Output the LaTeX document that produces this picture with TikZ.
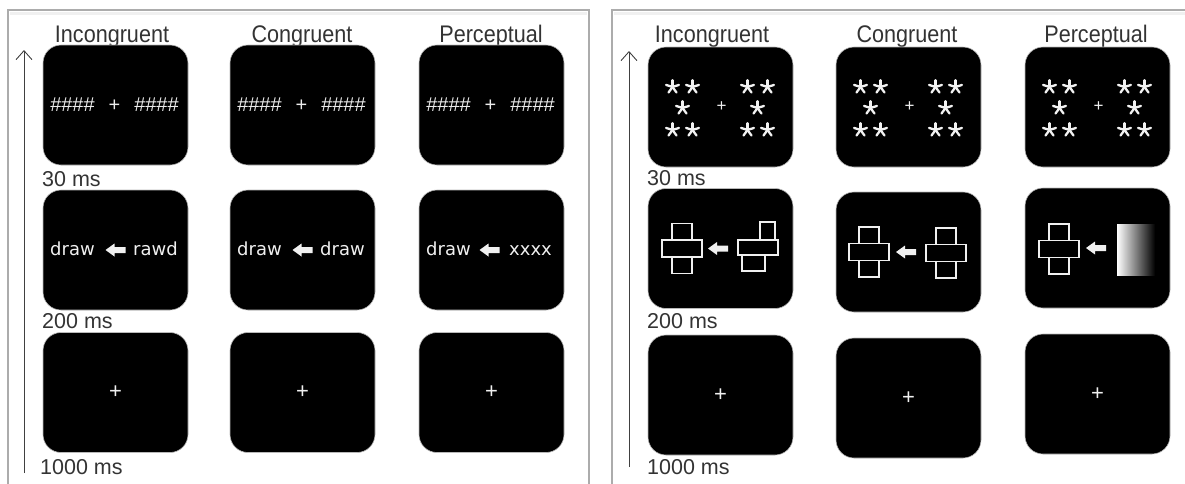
\documentclass[tikz,border=0pt]{standalone}
\usepackage{fontspec}
\setmainfont{Liberation Sans}
\newfontfamily\titlefont[FakeStretch=0.9]{Liberation Sans}
\newfontfamily\stimfont{DejaVu Sans}
\usetikzlibrary{arrows.meta}
\begin{document}
\begin{tikzpicture}[x=1pt,y=-1pt,
  screen/.style={draw=gray!55, line width=0.6pt, fill=black, rounded corners=18pt,
    minimum width=145pt, minimum height=120pt, inner sep=0pt},
  ttl/.style={font=\titlefont\fontsize{24}{24}\selectfont, text=black!80, inner sep=0pt, anchor=base},
  tlabel/.style={font=\fontsize{21.5}{22}\selectfont, text=black!80, anchor=base west, inner sep=0pt},
  word/.style={font=\stimfont\fontsize{18}{18}\selectfont, text=gray!12, inner sep=0pt, anchor=base},
  hashes/.style={font=\fontsize{20}{20}\selectfont, text=gray!15, inner sep=0pt, anchor=base},
  fix/.style={font=\fontsize{22}{22}\selectfont, text=gray!12, inner sep=0pt},
  panel/.style={draw=gray!65, line width=1.2pt},
  timeline/.style={draw=black!75, line width=0.9pt, -{Straight Barb[length=9pt,width=16pt]}},
  outline/.style={draw=gray!12, line width=1.2pt, fill=black},
  thickarrow/.pic={\fill[gray!12] (-10,0) -- (-1,-6.5) -- (-1,-3) -- (10,-3) -- (10,3) -- (-1,3) -- (-1,6.5) -- cycle;},
  starmark/.pic={\foreach \a in {-90,-18,54,126,198} \draw[gray!10, line width=2.3pt, line cap=round] (0,0) -- (\a:6.8);},
  starset/.pic={
    \pic at (-10,-21) {starmark}; \pic at (10,-21) {starmark};
    \pic at (0,0) {starmark};
    \pic at (-10,22) {starmark}; \pic at (10,22) {starmark};},
  crossfig/.pic={\draw[outline] (-10,-25) rectangle (10,25); \draw[outline] (-20,-8.5) rectangle (20,8.5);},
  brokencross/.pic={\draw[outline] (2,-25.5) rectangle (17,-7.5); \draw[outline] (-16,7.5) rectangle (7,23.5);
    \draw[outline] (-20,-7.5) rectangle (20,7.5);},
]
\useasboundingbox (0,0) rectangle (1185,483);
\clip (0,0) rectangle (1185,483);

% panels
\draw[gray!12, line width=3pt] (10,13.5) -- (587,13.5);
\draw[gray!12, line width=3pt] (614,13.5) -- (1190,13.5);
\draw[panel] (8,10) rectangle (589,500);
\draw[panel] (612,10) rectangle (1200,500);

% ===== LEFT PANEL =====
\coordinate (lbot) at (24,473);
\coordinate (ltop) at (24,50);
\draw[timeline] (lbot) -- (ltop);

\node[ttl] (lt1) at (112,42) {Incongruent};
\node[ttl] (lt2) at (302,42) {Congruent};
\node[ttl] (lt3) at (491,42) {Perceptual};

% row 1
\node[screen] (la1) at (115.5,105) {};
\node[screen] (lb1) at (302.5,105) {};
\node[screen] (lc1) at (491.5,105) {};
\foreach \n/\c in {a/115.5,b/302.5,c/491.5}{
  \node[hashes] (lh\n l) at (\c-43,111) {\#\#\#\#};
  \node[hashes] (lh\n p) at (\c-1,111) {+};
  \node[hashes] (lh\n r) at (\c+41,111) {\#\#\#\#};
}
% row 2
\node[screen] (la2) at (115.5,250) {};
\node[screen] (lb2) at (302.5,250) {};
\node[screen] (lc2) at (491.5,250) {};
\node[word] (lwa1) at (115.5-43,255) {draw};
\node[word] (lwa2) at (115.5+40,255) {rawd};
\node[word] (lwb1) at (302.5-43,255) {draw};
\node[word] (lwb2) at (302.5+40,255) {draw};
\node[word] (lwc1) at (491.5-43,255) {draw};
\node[word] (lwc2) at (491.5+39,255) {xxxx};
\pic at (115.5,250) {thickarrow};
\pic at (302.5,250) {thickarrow};
\pic at (489.5,250) {thickarrow};
% row 3
\node[screen] (la3) at (115.5,392.5) {};
\node[screen] (lb3) at (302.5,392.5) {};
\node[screen] (lc3) at (491.5,392.5) {};
\node[fix] (lfa) at (la3.center) {+};
\node[fix] (lfb) at (lb3.center) {+};
\node[fix] (lfc) at (lc3.center) {+};

\node[tlabel] (l30) at (42,186) {30 ms};
\node[tlabel] (l200) at (42,328) {200 ms};
\node[tlabel] (l1000) at (40,474) {1000 ms};

% ===== RIGHT PANEL =====
\coordinate (rbot) at (629,467);
\coordinate (rtop) at (629,51);
\draw[timeline] (rbot) -- (rtop);

\node[ttl] (rt1) at (712,42) {Incongruent};
\node[ttl] (rt2) at (907,42) {Congruent};
\node[ttl] (rt3) at (1096,42) {Perceptual};

% row 1
\node[screen] (ra1) at (720.5,107) {};
\node[screen] (rb1) at (908.5,107) {};
\node[screen] (rc1) at (1097.5,107) {};
\foreach \c in {720.5,908.5,1097.5}{
  \pic at (\c-38,108) {starset};
  \pic at (\c+37,108) {starset};
}
\node[fix, font=\fontsize{17}{17}\selectfont] (rpa) at (721.5,107) {+};
\node[fix, font=\fontsize{17}{17}\selectfont] (rpb) at (909.5,107) {+};
\node[fix, font=\fontsize{17}{17}\selectfont] (rpc) at (1098.5,107) {+};

% row 2
\node[screen] (ra2) at (720.5,248.5) {};
\node[screen] (rb2) at (908.5,252) {};
\node[screen] (rc2) at (1097.5,248) {};
\pic at (682,248.5) {crossfig};
\pic at (718,248.5) {thickarrow};
\pic at (758,247.5) {brokencross};
\pic at (869,252) {crossfig};
\pic at (906,252) {thickarrow};
\pic at (946,253) {crossfig};
\pic at (1059,249) {crossfig};
\pic at (1096,248) {thickarrow};
\shade[left color=white, right color=black] (1117,224) rectangle (1155,275);

% row 3
\node[screen] (ra3) at (720.5,395) {};
\node[screen] (rb3) at (908.5,398) {};
\node[screen] (rc3) at (1097.5,394) {};
\node[fix] (rfa) at (ra3.center) {+};
\node[fix] (rfb) at (rb3.center) {+};
\node[fix] (rfc) at (rc3.center) {+};

\node[tlabel] (r30) at (647,185) {30 ms};
\node[tlabel] (r200) at (647,328) {200 ms};
\node[tlabel] (r1000) at (647,474) {1000 ms};
\end{tikzpicture}
\end{document}
